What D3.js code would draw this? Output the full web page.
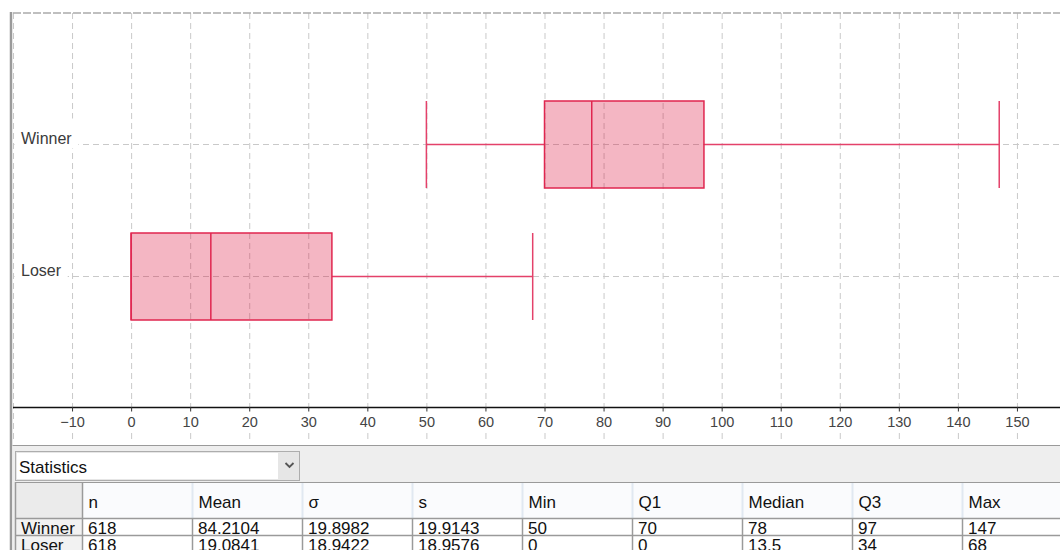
<!DOCTYPE html>
<html>
<head>
<meta charset="utf-8">
<script src="https://cdn.jsdelivr.net/npm/d3@7/dist/d3.min.js"></script>
<style>
  html, body { margin: 0; padding: 0; background: #fff; }
  svg { display: block; font-family: "Liberation Sans", Arial, sans-serif; }
</style>
</head>
<body>
<svg id="chart" width="1060" height="550"></svg>
<script>
// Box plot summary per group
const categories = ["Winner", "Loser"];
const minValues = [50, 0];
const q1Values = [70, 0];
const medianValues = [78, 13.5];
const q3Values = [97, 34];
const maxValues = [147, 68];

// Statistics table
const countValues = [618, 618];
const meanValues = [84.2104, 19.0841];
const sigmaValues = [19.8982, 18.9422];
const sampleSdValues = [19.9143, 18.9576];
const statColumns = ["n", "Mean", "σ", "s", "Min", "Q1", "Median", "Q3", "Max"];

// Axis
const gridValues = [-20, -10, 0, 10, 20, 30, 40, 50, 60, 70, 80, 90, 100, 110, 120, 130, 140, 150, 160];
const tickValues = [-10, 0, 10, 20, 30, 40, 50, 60, 70, 80, 90, 100, 110, 120, 130, 140, 150];

const svg = d3.select("#chart");
const W = 1060, H = 550;
const plot = { left: 13, top: 13, bottom: 407, right: 1060 };

const x = d3.scaleLinear().domain([-20, 160]).range([plot.left, 1076]);
const y = d3.scalePoint().domain(categories).range([plot.top, plot.bottom]).padding(1);
const boxHalf = 43.5;

const rows = categories.map((c, i) => ({
  name: c, min: minValues[i], q1: q1Values[i], median: medianValues[i],
  q3: q3Values[i], max: maxValues[i]
}));

// clip for plot area
svg.append("defs").append("clipPath").attr("id", "plotclip")
  .append("rect").attr("x", plot.left).attr("y", 0).attr("width", W - plot.left).attr("height", 445);

const g = svg.append("g").attr("clip-path", "url(#plotclip)");

// vertical grid lines
g.selectAll("line.vgrid").data(gridValues).join("line")
  .attr("class", "vgrid")
  .attr("x1", d => x(d) + 0.5).attr("x2", d => x(d) + 0.5)
  .attr("y1", plot.top).attr("y2", 443)
  .attr("stroke", "#c9c9c9").attr("stroke-width", 1)
  .attr("stroke-dasharray", "6,4");

// horizontal category lines
g.selectAll("line.hgrid").data(categories).join("line")
  .attr("class", "hgrid")
  .attr("x1", plot.left).attr("x2", W)
  .attr("y1", d => Math.round(y(d)) + 0.5).attr("y2", d => Math.round(y(d)) + 0.5)
  .attr("stroke", "#c9c9c9").attr("stroke-width", 1)
  .attr("stroke-dasharray", "6,4");

// top border
svg.append("line")
  .attr("x1", plot.left).attr("x2", W).attr("y1", 13).attr("y2", 13)
  .attr("stroke", "#aaaaaa").attr("stroke-width", 1.5).attr("stroke-dasharray", "8,2");

// boxes
const boxes = g.selectAll("g.box").data(rows).join("g").attr("class", "box");
const cy = d => Math.round(y(d.name)) + 0.5;

boxes.append("line") // lower whisker
  .attr("x1", d => x(d.min)).attr("x2", d => x(d.q1))
  .attr("y1", cy).attr("y2", cy)
  .attr("stroke", "#e4416a").attr("stroke-width", 1.5);
boxes.append("line") // upper whisker
  .attr("x1", d => x(d.q3)).attr("x2", d => x(d.max))
  .attr("y1", cy).attr("y2", cy)
  .attr("stroke", "#e4416a").attr("stroke-width", 1.5);
boxes.append("line") // min cap
  .attr("x1", d => x(d.min)).attr("x2", d => x(d.min))
  .attr("y1", d => cy(d) - boxHalf).attr("y2", d => cy(d) + boxHalf)
  .attr("stroke", "#e4416a").attr("stroke-width", 1.5);
boxes.append("line") // max cap
  .attr("x1", d => x(d.max)).attr("x2", d => x(d.max))
  .attr("y1", d => cy(d) - boxHalf).attr("y2", d => cy(d) + boxHalf)
  .attr("stroke", "#e4416a").attr("stroke-width", 1.5);
boxes.append("rect")
  .attr("x", d => x(d.q1)).attr("width", d => x(d.q3) - x(d.q1))
  .attr("y", d => cy(d) - boxHalf).attr("height", boxHalf * 2)
  .attr("fill", "rgb(220,20,60)").attr("fill-opacity", 0.31)
  .attr("stroke", "#e0264f").attr("stroke-width", 1.5);
boxes.append("line") // median
  .attr("x1", d => x(d.median)).attr("x2", d => x(d.median))
  .attr("y1", d => cy(d) - boxHalf).attr("y2", d => cy(d) + boxHalf)
  .attr("stroke", "#e0264f").attr("stroke-width", 1.5);

// category labels with white backing
const catLabels = svg.selectAll("g.cat").data(categories).join("g").attr("class", "cat");
catLabels.each(function(d) {
  const sel = d3.select(this);
  const base = Math.round(y(d)) - 0.5;
  const t = sel.append("text")
    .attr("x", 21).attr("y", base)
    .attr("font-size", 16).attr("fill", "#3a3a3a").text(d);
  const bb = t.node().getBBox();
  sel.insert("rect", "text")
    .attr("x", plot.left + 1.5).attr("y", base - 25)
    .attr("width", bb.x + bb.width + 6 - (plot.left + 1.5)).attr("height", 30)
    .attr("fill", "#fff");
});

// x axis line and ticks
svg.append("line")
  .attr("x1", plot.left).attr("x2", W).attr("y1", plot.bottom + 0.5).attr("y2", plot.bottom + 0.5)
  .attr("stroke", "#111").attr("stroke-width", 1.3);

const ticks = svg.selectAll("g.tick").data(tickValues).join("g").attr("class", "tick")
  .attr("transform", d => `translate(${x(d) + 0.5},0)`);
ticks.append("rect")
  .attr("x", -18).attr("width", 36).attr("y", 412).attr("height", 20).attr("fill", "#fff");
ticks.append("line")
  .attr("y1", plot.bottom).attr("y2", 411.5)
  .attr("stroke", "#333").attr("stroke-width", 1);
ticks.append("text")
  .attr("y", 427).attr("text-anchor", "middle")
  .attr("font-size", 14.5).attr("fill", "#444")
  .text(d => d < 0 ? "\u2212" + Math.abs(d) : String(d));

// left border bar
svg.append("line")
  .attr("x1", 11).attr("x2", 11).attr("y1", 12).attr("y2", H)
  .attr("stroke", "#9a9a9a").attr("stroke-width", 2.5);

// lower statistics panel
svg.append("rect")
  .attr("x", 12.5).attr("y", 445).attr("width", W - 12.5).attr("height", H - 445)
  .attr("fill", "#eeeeee");
svg.append("line")
  .attr("x1", 12.5).attr("x2", W).attr("y1", 445.5).attr("y2", 445.5)
  .attr("stroke", "#9a9a9a").attr("stroke-width", 1.2);

// dropdown
const dd = svg.append("g");
dd.append("rect").attr("x", 15.5).attr("y", 451.5).attr("width", 284).attr("height", 29)
  .attr("fill", "#e6e6e6").attr("stroke", "#adadad");
dd.append("rect").attr("x", 17).attr("y", 453).attr("width", 261).attr("height", 26)
  .attr("fill", "#fff");
dd.append("text").attr("x", 19).attr("y", 473).attr("font-size", 17).attr("fill", "#111")
  .text("Statistics");
dd.append("path").attr("d", "M285.5,463 L289.5,467 L293.5,463")
  .attr("fill", "none").attr("stroke", "#555").attr("stroke-width", 1.8);

// statistics table
const tableTop = 482, headH = 36, rowH = 17;
const firstColW = 67, colW = 110, tableLeft = 15;
const colX = statColumns.map((c, i) => tableLeft + firstColW + i * colW);
const tbl = svg.append("g");

tbl.append("rect").attr("x", tableLeft).attr("y", tableTop).attr("width", W - tableLeft)
  .attr("height", headH).attr("fill", "#fafbfd");
tbl.append("rect").attr("x", tableLeft).attr("y", tableTop).attr("width", firstColW)
  .attr("height", headH).attr("fill", "#ebebeb");
tbl.append("rect").attr("x", tableLeft).attr("y", tableTop + headH).attr("width", W - tableLeft)
  .attr("height", H - tableTop - headH).attr("fill", "#fff");
tbl.append("rect").attr("x", tableLeft).attr("y", tableTop + headH).attr("width", firstColW)
  .attr("height", H - tableTop - headH).attr("fill", "#f2f2f2");

// header separators
tbl.selectAll("line.hsep").data(colX.slice(1)).join("line")
  .attr("x1", d => d + 0.5).attr("x2", d => d + 0.5)
  .attr("y1", tableTop).attr("y2", tableTop + headH)
  .attr("stroke", "#e1e8f1").attr("stroke-width", 2);
tbl.selectAll("text.head").data(statColumns).join("text")
  .attr("x", (d, i) => colX[i] + 6.5).attr("y", 508)
  .attr("font-size", 17).attr("fill", "#111").text(d => d);

// data rows
const tableRows = categories.map((c, i) => [
  countValues[i], meanValues[i], sigmaValues[i], sampleSdValues[i],
  minValues[i], q1Values[i], medianValues[i], q3Values[i], maxValues[i]
]);
tableRows.forEach((vals, r) => {
  const top = tableTop + headH + r * rowH;
  tbl.append("text").attr("x", tableLeft + 6).attr("y", top + 15.5)
    .attr("font-size", 17).attr("fill", "#111").text(categories[r]);
  tbl.selectAll(null).data(vals).join("text")
    .attr("x", (d, i) => colX[i] + 6).attr("y", top + 15.5)
    .attr("font-size", 17).attr("fill", "#111").text(d => String(d));
});

// grid lines of table
const lineColor = "#9a9a9a";
tbl.append("line").attr("x1", tableLeft).attr("x2", W).attr("y1", tableTop + 0.5).attr("y2", tableTop + 0.5)
  .attr("stroke", lineColor);
[0, 1, 2].forEach(r => {
  const yy = tableTop + headH + r * rowH + 0.5;
  tbl.append("line").attr("x1", tableLeft).attr("x2", W).attr("y1", yy).attr("y2", yy)
    .attr("stroke", lineColor).attr("stroke-width", 1.5);
});
tbl.append("line").attr("x1", tableLeft + 0.5).attr("x2", tableLeft + 0.5).attr("y1", tableTop).attr("y2", H)
  .attr("stroke", lineColor).attr("stroke-width", 1.5);
tbl.append("line").attr("x1", colX[0] + 0.5).attr("x2", colX[0] + 0.5).attr("y1", tableTop).attr("y2", H)
  .attr("stroke", lineColor).attr("stroke-width", 1.5);
tbl.selectAll("line.dsep").data(colX.slice(1)).join("line")
  .attr("x1", d => d + 0.5).attr("x2", d => d + 0.5)
  .attr("y1", tableTop + headH).attr("y2", H)
  .attr("stroke", lineColor).attr("stroke-width", 1.5);
</script>
</body>
</html>
